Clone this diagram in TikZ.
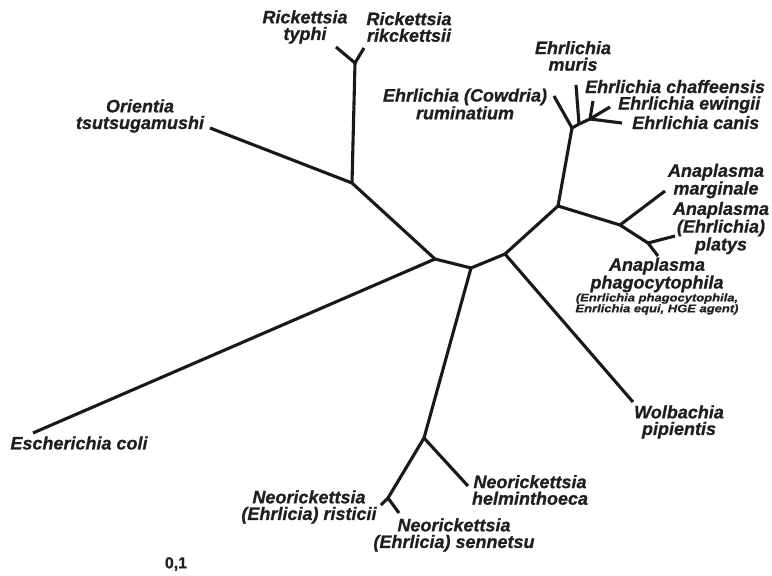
\documentclass[tikz,border=0pt]{standalone}
\usepackage{fontspec}
\setmainfont{Liberation Sans}[BoldItalicFeatures={FakeBold=0.8},BoldFeatures={FakeBold=0.8}]
\begin{document}
\begin{tikzpicture}[x=1pt,y=-1pt,
  branch/.style={line width=3.1pt,line join=round,line cap=butt,color=black!90},
  taxon/.style={inner sep=0pt,align=center,font=\fontsize{18}{16.6}\selectfont\bfseries\itshape,text=black!88},
  taxonnote/.style={inner sep=0pt,align=center,font=\fontsize{11}{10.8}\selectfont\bfseries\itshape,text=black!88},
  scalelabel/.style={inner sep=0pt,font=\fontsize{16}{18}\selectfont\bfseries,text=black!88}]
\useasboundingbox (0,0) rectangle (772,576);
% internal nodes
\coordinate (A) at (435,259);
\coordinate (B) at (471,268);
\coordinate (C) at (505,254);
\coordinate (D) at (424,438);
\coordinate (D2) at (388,498);
\coordinate (E) at (352,183);
\coordinate (R) at (355,63);
\coordinate (F) at (558,206);
\coordinate (G) at (572,128);
\coordinate (J) at (579,124);
\coordinate (K) at (590,119);
\coordinate (H) at (620,225);
\coordinate (I) at (648,243);
% leaf ends
\coordinate (ecoli) at (33,433);
\coordinate (orient) at (210,128);
\coordinate (typhi) at (336,47);
\coordinate (rikc) at (364,48);
\coordinate (rumin) at (554,96);
\coordinate (muris) at (576,85);
\coordinate (chaff) at (593,101);
\coordinate (ewing) at (610,107);
\coordinate (canis) at (622,123);
\coordinate (marg) at (665,191);
\coordinate (platys) at (675,236);
\coordinate (phago) at (658,256);
\coordinate (wolb) at (633,402);
\coordinate (helm) at (468,486);
\coordinate (rist) at (381,505);
\coordinate (senn) at (399,513);
% branches
\draw[branch] (ecoli) -- (A);
\draw[branch] (A) -- (B) -- (C);
\draw[branch] (A) -- (E);
\draw[branch] (E) -- (orient);
\draw[branch] (E) -- (R);
\draw[branch] (typhi) -- (R) -- (rikc);
\draw[branch] (B) -- (D);
\draw[branch] (D) -- (helm);
\draw[branch] (D) -- (D2);
\draw[branch] (rist) -- (D2) -- (senn);
\draw[branch] (C) -- (wolb);
\draw[branch] (C) -- (F);
\draw[branch] (F) -- (G);
\draw[branch] (G) -- (rumin);
\draw[branch] (G) -- (J);
\draw[branch] (J) -- (muris);
\draw[branch] (J) -- (K);
\draw[branch] (K) -- (chaff);
\draw[branch] (K) -- (ewing);
\draw[branch] (K) -- (canis);
\draw[branch] (F) -- (H);
\draw[branch] (H) -- (marg);
\draw[branch] (H) -- (I) -- (phago);
\draw[branch] (I) -- (platys);
% labels
\node[taxon] (Lecoli) at (79,443) {Escherichia coli};
\node[taxon] (Lorient) at (140,116) {Orientia\\tsutsugamushi};
\node[taxon] (Ltyphi) at (305,27) {Rickettsia\\typhi};
\node[taxon] (Lrikc) at (409,27) {Rickettsia\\rikckettsii};
\node[taxon] (Lrumin) at (465,104) {Ehrlichia (Cowdria)\\ruminatium};
\node[taxon] (Lmuris) at (573,56) {Ehrlichia\\muris};
\node[taxon,anchor=base west] (Lchaff) at (585,93) {Ehrlichia chaffeensis};
\node[taxon,anchor=base west] (Lewing) at (618,109.5) {Ehrlichia ewingii};
\node[taxon,anchor=base west] (Lcanis) at (632,129) {Ehrlichia canis};
\node[taxon] (Lmarg) at (716,181) {Anaplasma\\marginale};
\node[taxon] (Lplatys) at (721,228) {Anaplasma\\(Ehrlichia)\\platys};
\node[taxon] (Lphago) at (657,275) {Anaplasma\\phagocytophila};
\node[taxonnote] (Lphagonote) at (657,304) {\scalebox{1.18}[1]{(Enrlichia phagocytophila,}\\\scalebox{1.18}[1]{Enrlichia equi, HGE agent)}};
\node[taxon] (Lwolb) at (679,422) {Wolbachia\\pipientis};
\node[taxon] (Lhelm) at (530,490) {Neorickettsia\\helminthoeca};
\node[taxon] (Lrist) at (309,507) {Neorickettsia\\(Ehrlicia) risticii};
\node[taxon] (Lsenn) at (454,535) {Neorickettsia\\(Ehrlicia) sennetsu};
\node[scalelabel] (Lscale) at (176,564) {0,1};
\end{tikzpicture}
\end{document}
